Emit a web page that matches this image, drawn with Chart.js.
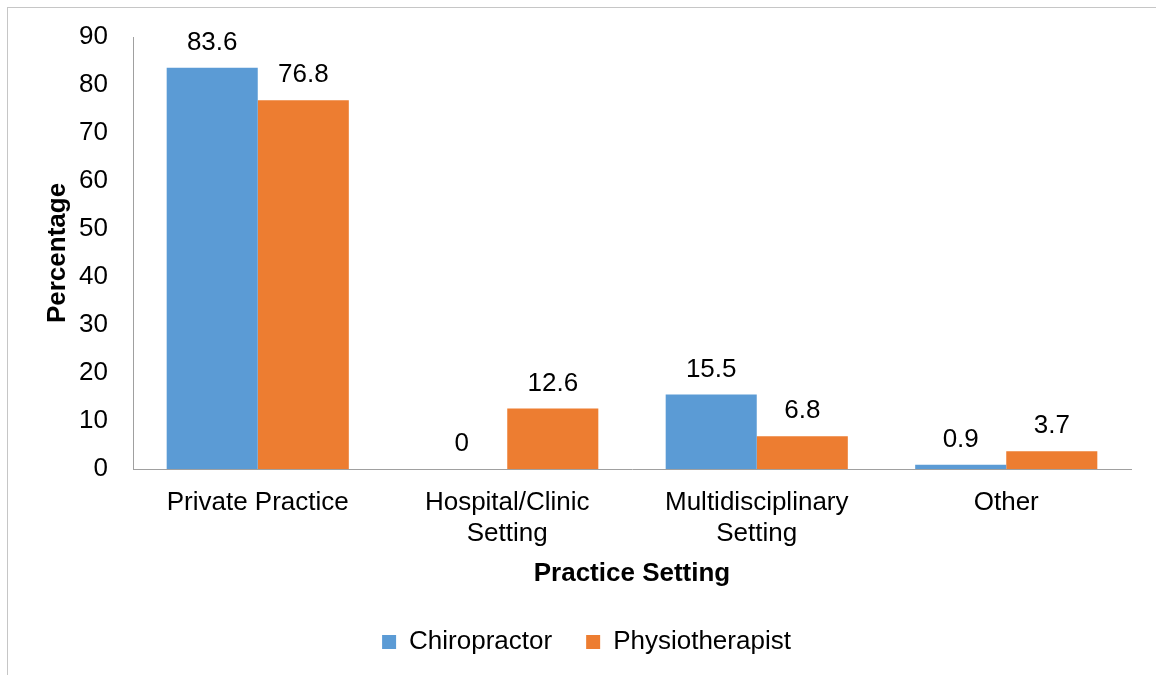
<!DOCTYPE html>
<html>
<head>
<meta charset="utf-8">
<script src="https://cdn.jsdelivr.net/npm/chart.js@4/dist/chart.umd.min.js"></script>
<style>
  html, body { margin: 0; padding: 0; background: #fff; }
  #wrap { position: relative; width: 1156px; height: 675px; overflow: hidden; }
  #frame { position: absolute; left: 7px; top: 7px; width: 1200px; height: 700px; border: 1px solid #c6c6c6; box-sizing: border-box; }
  canvas { position: absolute; left: 0; top: 0; }
</style>
</head>
<body>
<div id="wrap">
  <div id="frame"></div>
  <canvas id="settingChart" width="1156" height="675"></canvas>
</div>
<script>
const categories = [['Private Practice'], ['Hospital/Clinic', 'Setting'], ['Multidisciplinary', 'Setting'], ['Other']];
const chiropractor = [83.6, 0, 15.5, 0.9];
const physiotherapist = [76.8, 12.6, 6.8, 3.7];
const yTicks = { min: 0, max: 90, step: 10 };

const fontFamily = '"Liberation Sans", Arial, sans-serif';

// draws the value above each bar
const valueLabels = {
    id: 'valueLabels',
    afterDatasetsDraw(chart) {
        const ctx = chart.ctx;
        ctx.save();
        ctx.font = '26px ' + fontFamily;
        ctx.fillStyle = '#000';
        ctx.textAlign = 'center';
        ctx.textBaseline = 'alphabetic';
        chart.data.datasets.forEach((ds, i) => {
            chart.getDatasetMeta(i).data.forEach((bar, j) => {
                ctx.fillText(String(ds.data[j]), bar.x, bar.y - 18);
            });
        });
        ctx.restore();
    }
};

const ctx = document.getElementById('settingChart').getContext('2d');
new Chart(ctx, {
    type: 'bar',
    data: {
        labels: categories,
        datasets: [{
            label: 'Chiropractor',
            data: chiropractor,
            backgroundColor: '#5B9BD5',
            borderWidth: 0
        }, {
            label: 'Physiotherapist',
            data: physiotherapist,
            backgroundColor: '#ED7D31',
            borderWidth: 0
        }]
    },
    options: {
        responsive: false,
        animation: false,
        layout: { padding: { left: 42, right: 25, top: 37, bottom: 10 } },
        datasets: { bar: { categoryPercentage: 0.73, barPercentage: 1 } },
        plugins: {
            legend: {
                position: 'bottom',
                labels: {
                    font: { size: 26, family: fontFamily },
                    color: '#000',
                    boxWidth: 14,
                    boxHeight: 14,
                    padding: 34
                }
            },
            tooltip: { enabled: false }
        },
        scales: {
            x: {
                grid: { display: false },
                border: { display: true, color: '#a0a0a0', width: 1 },
                ticks: { font: { size: 26, family: fontFamily }, color: '#000', padding: 10, maxRotation: 0 },
                title: {
                    display: true,
                    text: 'Practice Setting',
                    font: { size: 26, weight: 'bold', family: fontFamily },
                    color: '#000',
                    padding: { top: 0, bottom: 6 }
                },
                afterFit(scale) { scale.height = 126; }
            },
            y: {
                min: yTicks.min,
                max: yTicks.max,
                grid: { display: false },
                border: { display: true, color: '#a0a0a0', width: 1 },
                ticks: { stepSize: yTicks.step, font: { size: 26, family: fontFamily }, color: '#000', padding: 17 },
                title: {
                    display: true,
                    text: 'Percentage',
                    font: { size: 26, weight: 'bold', family: fontFamily },
                    color: '#000',
                    padding: { top: 0, bottom: 4 }
                },
                afterFit(scale) { scale.width = 91; }
            }
        }
    },
    plugins: [valueLabels]
});
</script>
</body>
</html>
